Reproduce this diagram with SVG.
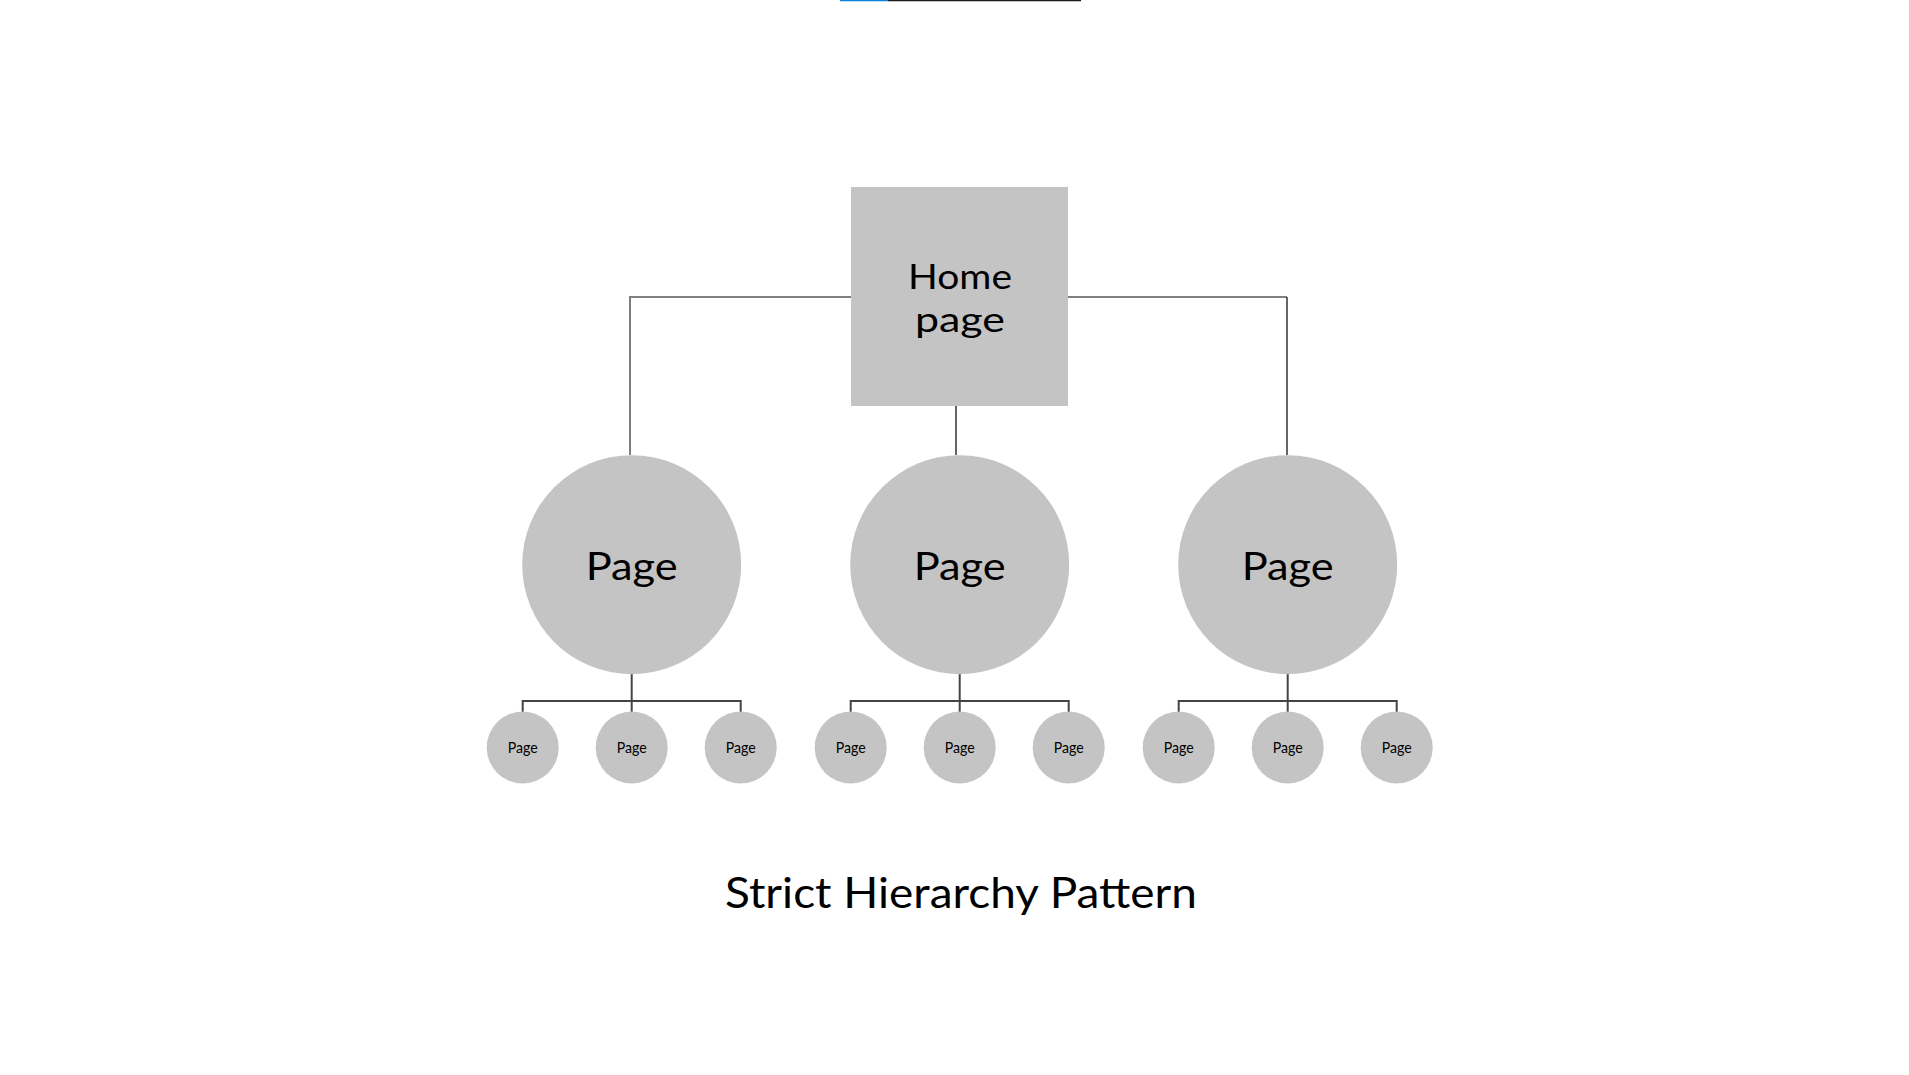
<svg xmlns="http://www.w3.org/2000/svg" width="1909" height="1075" viewBox="0 0 1909 1075">
<style>
.node{fill:#c4c4c4}
.lbl{font-family:Lato,"Liberation Sans",sans-serif;fill:#000;text-anchor:middle}
.big{font-size:39px}
.home{font-size:35px}
.small{font-size:15px}
.top{stroke:#7f7f7f;stroke-width:2;fill:none}
.drop{stroke:#333;stroke-width:1.5;fill:none}
.bus{stroke:#444;stroke-width:2;fill:none}
</style>
<rect width="1909" height="1075" fill="#fff"/>
<line x1="840" y1="0.5" x2="888" y2="0.5" stroke="#0a84e0" stroke-width="1.5"/>
<line x1="888" y1="0.5" x2="1081" y2="0.5" stroke="#1a1a1a" stroke-width="1.5"/>
<g id="connectors">
<polyline class="top" points="851,297 630,297 630,455"/>
<polyline class="top" points="1068,297 1287,297"/>
<line class="drop" x1="1287" y1="297" x2="1287" y2="455"/>
<line class="drop" x1="956" y1="406" x2="956" y2="455"/>
<g id="bus-left">
<line class="bus" x1="631.7" y1="674" x2="631.7" y2="712"/>
<polyline class="bus" points="522.7,712 522.7,701 740.7,701 740.7,712"/>
</g>
<g id="bus-mid">
<line class="bus" x1="959.7" y1="674" x2="959.7" y2="712"/>
<polyline class="bus" points="850.7,712 850.7,701 1068.7,701 1068.7,712"/>
</g>
<g id="bus-right">
<line class="bus" x1="1287.7" y1="674" x2="1287.7" y2="712"/>
<polyline class="bus" points="1178.7,712 1178.7,701 1396.7,701 1396.7,712"/>
</g>
</g>
<g id="home">
<rect class="node" x="851" y="187" width="217" height="219"/>
<text class="lbl home" x="960" y="288.5" textLength="104" lengthAdjust="spacingAndGlyphs">Home</text>
<text class="lbl home" x="960" y="331.5" textLength="90" lengthAdjust="spacingAndGlyphs">page</text>
</g>
<g id="page-left">
<circle class="node" cx="631.7" cy="564.7" r="109.5"/>
<text class="lbl big" x="631.7" y="580" textLength="92" lengthAdjust="spacingAndGlyphs">Page</text>
</g>
<g id="page-mid">
<circle class="node" cx="959.7" cy="564.7" r="109.5"/>
<text class="lbl big" x="959.7" y="580" textLength="92" lengthAdjust="spacingAndGlyphs">Page</text>
</g>
<g id="page-right">
<circle class="node" cx="1287.7" cy="564.7" r="109.5"/>
<text class="lbl big" x="1287.7" y="580" textLength="92" lengthAdjust="spacingAndGlyphs">Page</text>
</g>
<g id="sub-l1"><circle class="node" cx="522.7" cy="747.5" r="36"/><text class="lbl small" x="522.7" y="753" textLength="30" lengthAdjust="spacingAndGlyphs">Page</text></g>
<g id="sub-l2"><circle class="node" cx="631.7" cy="747.5" r="36"/><text class="lbl small" x="631.7" y="753" textLength="30" lengthAdjust="spacingAndGlyphs">Page</text></g>
<g id="sub-l3"><circle class="node" cx="740.7" cy="747.5" r="36"/><text class="lbl small" x="740.7" y="753" textLength="30" lengthAdjust="spacingAndGlyphs">Page</text></g>
<g id="sub-m1"><circle class="node" cx="850.7" cy="747.5" r="36"/><text class="lbl small" x="850.7" y="753" textLength="30" lengthAdjust="spacingAndGlyphs">Page</text></g>
<g id="sub-m2"><circle class="node" cx="959.7" cy="747.5" r="36"/><text class="lbl small" x="959.7" y="753" textLength="30" lengthAdjust="spacingAndGlyphs">Page</text></g>
<g id="sub-m3"><circle class="node" cx="1068.7" cy="747.5" r="36"/><text class="lbl small" x="1068.7" y="753" textLength="30" lengthAdjust="spacingAndGlyphs">Page</text></g>
<g id="sub-r1"><circle class="node" cx="1178.7" cy="747.5" r="36"/><text class="lbl small" x="1178.7" y="753" textLength="30" lengthAdjust="spacingAndGlyphs">Page</text></g>
<g id="sub-r2"><circle class="node" cx="1287.7" cy="747.5" r="36"/><text class="lbl small" x="1287.7" y="753" textLength="30" lengthAdjust="spacingAndGlyphs">Page</text></g>
<g id="sub-r3"><circle class="node" cx="1396.7" cy="747.5" r="36"/><text class="lbl small" x="1396.7" y="753" textLength="30" lengthAdjust="spacingAndGlyphs">Page</text></g>
<text id="title" class="lbl" x="961" y="908" font-size="43" textLength="472" lengthAdjust="spacingAndGlyphs">Strict Hierarchy Pattern</text>
</svg>
